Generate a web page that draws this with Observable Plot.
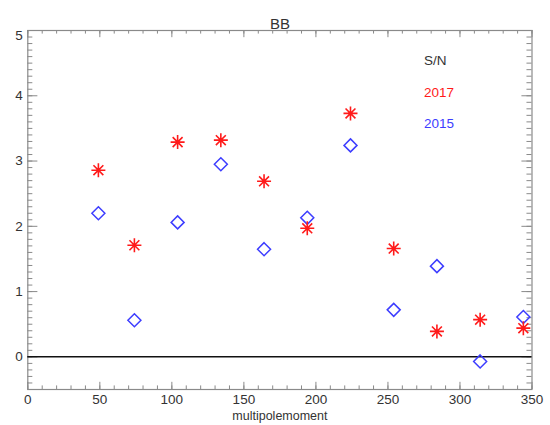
<!DOCTYPE html>
<html>
<head>
<meta charset="utf-8">
<script src="https://cdn.jsdelivr.net/npm/d3@7"></script>
<script src="https://cdn.jsdelivr.net/npm/@observablehq/plot@0.6"></script>
<style>
  html, body { margin: 0; padding: 0; background: #fff; }
  #chart svg { display: block; font-family: "Liberation Sans", Arial, sans-serif; }
</style>
</head>
<body>
<div id="chart"></div>
<script>
// ---- data ----
const multipole = [49, 74, 104, 134, 164, 194, 224, 254, 284, 314, 344];
const sn2017 = [2.86, 1.71, 3.29, 3.32, 2.69, 1.97, 3.73, 1.66, 0.39, 0.57, 0.44];
const sn2015 = [2.20, 0.56, 2.06, 2.95, 1.65, 2.13, 3.24, 0.72, 1.39, -0.07, 0.61];
const xTickLabels = [0, 50, 100, 150, 200, 250, 300, 350];
const yTickLabels = [0, 1, 2, 3, 4, 5];
const legendLabels = ["S/N", "2017", "2015"];
const titleText = "BB";
const xLabelText = "multipolemoment";

// ---- layout / style ----
const W = 550, H = 425;
const mL = 27.3, mR = 18.5, mT = 30, mB = 36;
const innerW = W - mL - mR, innerH = H - mT - mB;
const frameGray = "#8a8a8a";
const textGray = "#333";
const red = "#ff1a1a";
const blue = "#3d3dff";

const xMinor = d3.range(0, 36).map(i => i * 10);
const yMinor = d3.range(-5, 51).map(i => i / 10);
const xMajLen = innerH * 0.02, xMinLen = xMajLen / 2;
const yMajLen = innerW * 0.02, yMinLen = yMajLen / 2;

const asterisk = {
  draw(ctx) {
    const r = 7, d = r * Math.SQRT1_2;
    ctx.moveTo(-r, 0); ctx.lineTo(r, 0);
    ctx.moveTo(0, -r); ctx.lineTo(0, r);
    ctx.moveTo(-d, -d); ctx.lineTo(d, d);
    ctx.moveTo(-d, d); ctx.lineTo(d, -d);
  }
};
const diamond = {
  draw(ctx) {
    const r = 6.5;
    ctx.moveTo(0, -r); ctx.lineTo(r, 0); ctx.lineTo(0, r); ctx.lineTo(-r, 0); ctx.closePath();
  }
};

const d2017 = multipole.map((x, i) => ({x, y: sn2017[i]}));
const d2015 = multipole.map((x, i) => ({x, y: sn2015[i]}));
const legendColors = [textGray, red, blue];

const chart = Plot.plot({
  width: W, height: H,
  marginLeft: mL, marginRight: mR, marginTop: mT, marginBottom: mB,
  style: {fontFamily: '"Liberation Sans", Arial, sans-serif', background: "#fff"},
  x: {domain: [0, 350], axis: null},
  y: {domain: [-0.5, 5], axis: null},
  marks: [
    Plot.tickX(xMinor, {x: d => d, insetTop: innerH - xMinLen, stroke: frameGray}),
    Plot.tickX(xMinor, {x: d => d, insetBottom: innerH - xMinLen, stroke: frameGray}),
    Plot.tickX(xTickLabels, {x: d => d, insetTop: innerH - xMajLen, stroke: frameGray}),
    Plot.tickX(xTickLabels, {x: d => d, insetBottom: innerH - xMajLen, stroke: frameGray}),
    Plot.tickY(yMinor, {y: d => d, insetRight: innerW - yMinLen, stroke: frameGray}),
    Plot.tickY(yMinor, {y: d => d, insetLeft: innerW - yMinLen, stroke: frameGray}),
    Plot.tickY(yTickLabels, {y: d => d, insetRight: innerW - yMajLen, stroke: frameGray}),
    Plot.tickY(yTickLabels, {y: d => d, insetLeft: innerW - yMajLen, stroke: frameGray}),
    Plot.frame({stroke: frameGray, strokeWidth: 1.2}),
    Plot.ruleY([0], {stroke: "#111", strokeWidth: 1.5}),
    Plot.dot(d2015, {x: "x", y: "y", symbol: diamond, r: 6, fill: "none", stroke: blue, strokeWidth: 1.5}),
    Plot.dot(d2017, {x: "x", y: "y", symbol: asterisk, r: 6, fill: "none", stroke: red, strokeWidth: 1.6}),
    Plot.text(xTickLabels, {x: d => d, frameAnchor: "bottom", dy: 14, text: d => String(d), fill: textGray, fontSize: 13.5}),
    Plot.text(yTickLabels.filter(v => v < 5), {y: d => d, frameAnchor: "left", dx: -5, textAnchor: "end", text: d => String(d), fill: textGray, fontSize: 13.5}),
    Plot.text(yTickLabels.filter(v => v >= 5), {y: d => d, frameAnchor: "left", dx: -5, dy: 5, textAnchor: "end", text: d => String(d), fill: textGray, fontSize: 13.5}),
    Plot.text([titleText], {frameAnchor: "top", dy: -12, text: d => d, fill: textGray, fontSize: 15}),
    Plot.text([xLabelText], {frameAnchor: "bottom", dy: 30, text: d => d, fill: textGray, fontSize: 12.5}),
    Plot.text(legendLabels, {
      x: () => 275, y: (d, i) => 4.545 - 0.49 * i, text: d => d,
      textAnchor: "start", fill: (d, i) => legendColors[i], fontSize: 13.5
    })
  ]
});
document.getElementById("chart").appendChild(chart);
</script>
</body>
</html>
